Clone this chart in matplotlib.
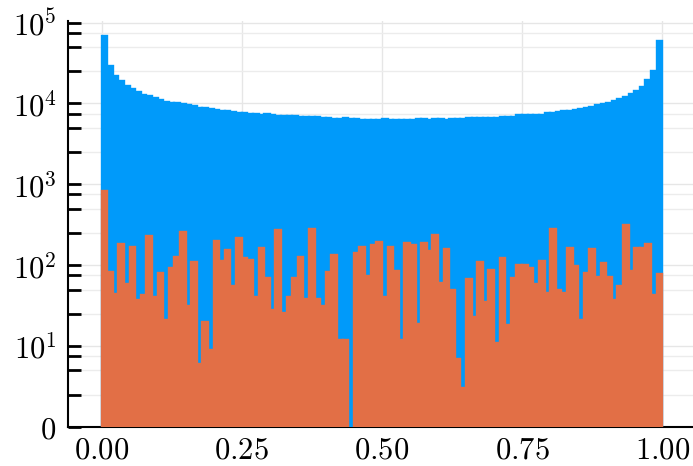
import numpy as np
import matplotlib
matplotlib.use("Agg")
import matplotlib.pyplot as plt
from matplotlib.ticker import FixedLocator, NullFormatter

plt.rcParams['mathtext.fontset'] = 'cm'

# 100 bins on [0, 1]
bin_edges = np.linspace(0.0, 1.0, 101)

blue_counts = [
    69000, 28800, 22100, 18800, 16600, 15000, 13700, 12900, 12200, 11600,
    10950, 10440, 10260, 10050, 9860, 9580, 9310, 8890, 8720, 8480,
    8410, 8080, 8010, 7860, 7720, 7700, 7420, 7360, 7290, 7360,
    7150, 7000, 7080, 7000, 6950, 6890, 6890, 6810, 6750, 6690,
    6620, 6510, 6510, 6560, 6510, 6380, 6330, 6330, 6250, 6330,
    6510, 6250, 6200, 6330, 6250, 6250, 6380, 6380, 6250, 6510,
    6510, 6250, 6510, 6510, 6430, 6560, 6560, 6690, 6690, 6690,
    6690, 6750, 6890, 6890, 7210, 7210, 7210, 7290, 7290, 7570,
    7720, 7780, 8010, 8170, 8360, 8600, 8850, 9160, 9500, 9770,
    10140, 10740, 11370, 12030, 13100, 14430, 16180, 19360, 25000, 59900,
]

orange_counts = [
    822, 82, 44, 183, 58, 170, 37, 43, 230, 41,
    80, 21, 92, 127, 256, 31, 109, 6, 20, 9,
    202, 113, 153, 55, 214, 122, 116, 41, 162, 69,
    28, 276, 26, 41, 70, 128, 38, 284, 38, 31,
    82, 132, 12, 12, 0, 140, 168, 73, 177, 191,
    40, 168, 84, 12, 187, 177, 19, 189, 149, 235,
    61, 158, 50, 7, 3, 68, 23, 109, 35, 87,
    11, 123, 18, 69, 100, 102, 92, 58, 114, 45,
    284, 50, 46, 161, 99, 21, 80, 158, 72, 107,
    72, 37, 55, 318, 84, 161, 161, 185, 43, 79,
]

ytick_vals = [1, 10, 100, 1000, 10000, 100000]
ytick_labels = ['$0$', '$10^{1}$', '$10^{2}$', '$10^{3}$', '$10^{4}$', '$10^{5}$']
xtick_vals = [0.0, 0.25, 0.5, 0.75, 1.0]
xtick_labels = ['$0.00$', '$0.25$', '$0.50$', '$0.75$', '$1.00$']

fig = plt.figure(figsize=(6.93, 4.66), dpi=100)
ax = fig.add_axes([0.0977, 0.0837, 0.9023, 0.8712])
ax.set_yscale('log')

widths = np.diff(bin_edges)
ax.bar(bin_edges[:-1], blue_counts, width=widths, align='edge',
       color='#009afa', edgecolor='#009afa', linewidth=1.7)
ax.bar(bin_edges[:-1], orange_counts, width=widths, align='edge',
       color='#e26f46', edgecolor='#e26f46', linewidth=1.7)

ax.set_xlim(-0.0603, 1.0548)
ax.set_ylim(1, 1.045e5)

ax.set_xticks(xtick_vals)
ax.set_xticklabels(xtick_labels)
ax.set_yticks(ytick_vals)
ax.set_yticklabels(ytick_labels)
minor = [s * 10 ** k for k in range(5) for s in (2.5, 5, 7.5)]
ax.yaxis.set_minor_locator(FixedLocator(minor))
ax.yaxis.set_minor_formatter(NullFormatter())

ax.set_axisbelow(True)
ax.grid(True, which='major', color='#e6e6e6', linewidth=1.0)
ax.grid(True, which='minor', axis='y', color='#ececec', linewidth=1.0)

ax.tick_params(axis='y', which='both', direction='in', length=9.5, width=2,
               color='black', pad=8, labelsize=22)
ax.tick_params(axis='x', which='both', direction='in', length=0,
               pad=6, labelsize=22)

for side in ('top', 'right'):
    ax.spines[side].set_visible(False)
for side in ('left', 'bottom'):
    ax.spines[side].set_linewidth(1.5)
    ax.spines[side].set_zorder(0.6)

fig.savefig('out.png', dpi=100)
